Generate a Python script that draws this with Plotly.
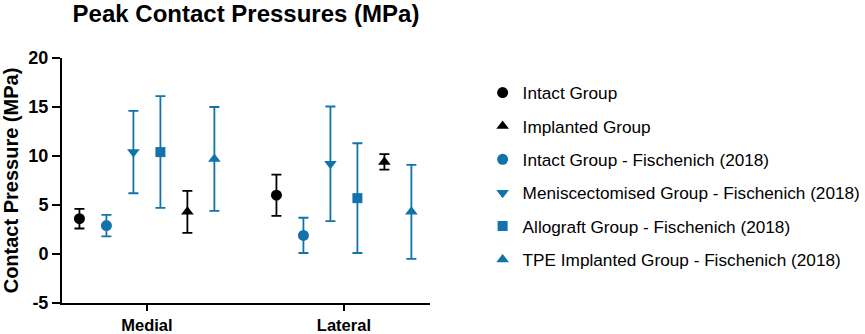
import plotly.graph_objects as go

categories = ["Medial", "Lateral"]
series_names = [
    "Intact Group",
    "Implanted Group",
    "Intact Group - Fischenich (2018)",
    "Meniscectomised Group - Fischenich (2018)",
    "Allograft Group - Fischenich (2018)",
    "TPE Implanted Group - Fischenich (2018)",
]
# mean values [Medial, Lateral]
intact = [3.6, 6.0]
implanted = [4.3, 9.4]
intact_f = [2.9, 1.9]
menisc_f = [10.4, 9.2]
allograft_f = [10.4, 5.7]
tpe_f = [9.7, 4.3]
# error (SD) [Medial, Lateral]
intact_err = [1.0, 2.1]
implanted_err = [2.15, 0.8]
intact_f_err = [1.1, 1.8]
menisc_f_err = [4.2, 5.85]
allograft_f_err = [5.7, 5.6]
tpe_f_err = [5.3, 4.8]

BLUE = "#1172ac"
BLACK = "#000000"
values = [intact, implanted, intact_f, menisc_f, allograft_f, tpe_f]
errors = [intact_err, implanted_err, intact_f_err, menisc_f_err, allograft_f_err, tpe_f_err]
colors = [BLACK, BLACK, BLUE, BLUE, BLUE, BLUE]
symbols = ["circle", "triangle-up", "circle", "triangle-down", "square", "triangle-up"]
slot = [-2.5, 1.5, -1.5, -0.5, 0.5, 2.5]
step = 0.137

fig = go.Figure()
for i, name in enumerate(series_names):
    xs = [c + slot[i] * step for c in range(len(categories))]
    fig.add_trace(go.Scatter(
        x=xs, y=values[i], name=name, mode="markers",
        legendgroup=name,
        marker=dict(color=colors[i], symbol=symbols[i], size=11 if symbols[i] != "square" else 10,
                    line=dict(width=0)),
        error_y=dict(type="data", array=errors[i], visible=True,
                     color=colors[i], thickness=1.8, width=5),
    ))

FONT = "Arial, Liberation Sans, sans-serif"
fig.update_layout(
    width=865, height=334,
    margin=dict(l=62, r=435, t=58, b=31, autoexpand=False),
    paper_bgcolor="white", plot_bgcolor="white",
    font=dict(family=FONT, color="black"),
    title=dict(text="<b>Peak Contact Pressures (MPa)</b>", x=0.5, xref="paper",
               xanchor="center", y=0.958, yanchor="middle",
               font=dict(size=24, family=FONT, color="black")),
    showlegend=True,
    legend=dict(x=1.143, xanchor="left", y=0.931, yanchor="top",
                font=dict(size=17.2, family=FONT, color="black"),
                tracegroupgap=8, bgcolor="rgba(0,0,0,0)"),
    xaxis=dict(range=[-0.431, 1.437], tickvals=[0, 1], ticktext=[f"<b>{c}</b>" for c in categories],
               automargin=False,
               showline=True, linecolor="black", linewidth=2, ticks="outside",
               ticklen=6, tickwidth=2, tickcolor="black", showgrid=False, zeroline=False,
               tickfont=dict(size=16.5, family=FONT, color="black")),
    yaxis=dict(range=[-5, 20], tickvals=[-5, 0, 5, 10, 15, 20],
               ticktext=["<b>-5</b>", "<b>0</b>", "<b>5</b>", "<b>10</b>", "<b>15</b>", "<b>20</b>"],
               automargin=False,
               showline=True, linecolor="black", linewidth=2, ticks="outside",
               ticklen=8, tickwidth=2, tickcolor="black", showgrid=False, zeroline=False,
               tickfont=dict(size=18, family=FONT, color="black"),
               title=dict(text="<b>Contact Pressure (MPa)</b>", standoff=4,
                          font=dict(size=20, family=FONT, color="black"))),
)

fig.write_html("out.html", config={"displayModeBar": False},
               post_script="document.body.style.margin='0';document.body.style.overflow='hidden';")
